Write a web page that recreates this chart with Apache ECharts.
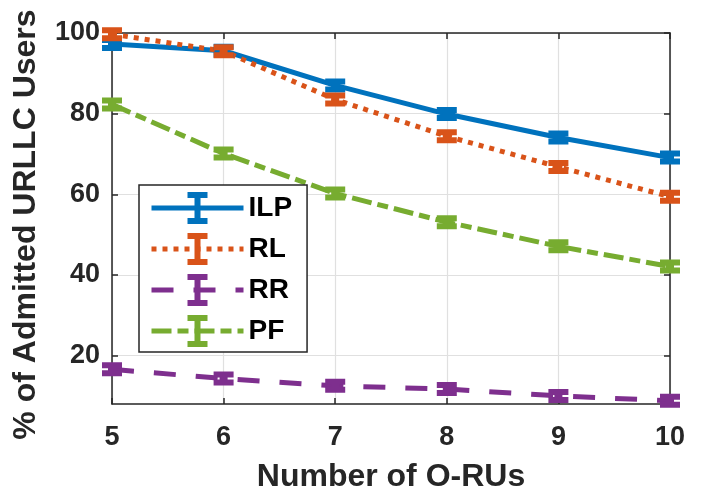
<!DOCTYPE html>
<html>
<head>
<meta charset="utf-8">
<script src="https://cdn.jsdelivr.net/npm/echarts@6/dist/echarts.min.js"></script>
<style>
html,body{margin:0;padding:0;background:#fff;}
#main{width:704px;height:493px;}
</style>
</head>
<body>
<div id="main"></div>
<script>
const xValues = [5, 6, 7, 8, 9, 10];
const ilpValues = [97.3, 95.6, 87.0, 79.9, 74.1, 69.1];
const rlValues = [99.7, 95.5, 83.5, 74.4, 66.8, 59.4];
const rrValues = [16.6, 14.3, 12.5, 11.7, 10.0, 8.8];
const pfValues = [82.3, 70.1, 60.2, 53.1, 47.1, 42.1];
const yTickValues = [20, 40, 60, 80, 100];
const seriesNames = ['ILP', 'RL', 'RR', 'PF'];
const seriesColors = ['#0072BD', '#D95319', '#7E2F8E', '#77AC30'];

const FONT = "'Liberation Sans', Arial, Helvetica, sans-serif";
const legendBeam = 'path://M0,16L0,16M32,16L32,16M6,0H26V6H19V26H26V32H6V26H13V6H6Z';
const markerBeam = 'path://M0,0H20V6H14V8H20V14H0V8H6V6H0Z';

function makeData(vals) {
  return vals.map((v, i) => ({ value: [xValues[i], v], symbol: markerBeam, symbolSize: [20, 14] }));
}
const dashes = ['solid', [5, 6], [22, 20], [20, 6, 11, 6]];
const allValues = [ilpValues, rlValues, rrValues, pfValues];

const series = seriesNames.map((name, k) => ({
  name: name,
  type: 'line',
  data: makeData(allValues[k]),
  symbol: legendBeam,
  symbolSize: 20,
  clip: false,
  color: seriesColors[k],
  lineStyle: { width: 5, type: dashes[k], color: seriesColors[k], cap: 'butt' },
  itemStyle: { color: seriesColors[k], borderWidth: 0 },
  emphasis: { disabled: true },
  animation: false
}));

const axisLineStyle = { color: '#262626', width: 1.5 };
const chart = echarts.init(document.getElementById('main'), null, { renderer: 'canvas' });
chart.setOption({
  backgroundColor: '#fff',
  animation: false,
  grid: { left: 112, right: 34, top: 33, bottom: 89, containLabel: false, outerBoundsMode: 'none' },
  legend: {
    data: seriesNames,
    orient: 'vertical',
    left: 139,
    top: 185,
    padding: [7, 15, 5, 10],
    itemWidth: 92,
    itemHeight: 40,
    itemGap: 9,
    borderColor: '#262626',
    borderWidth: 1.5,
    backgroundColor: '#fff',
    itemStyle: { borderWidth: 0 },
    lineStyle: { width: 5 },
    textStyle: { fontFamily: FONT, fontWeight: 'bold', fontSize: 28, color: '#000' },
    selectedMode: false
  },
  xAxis: [{
    type: 'value', min: 5, max: 10, interval: 1,
    name: 'Number of O-RUs', nameLocation: 'middle', nameGap: 57,
    nameTextStyle: { fontFamily: FONT, fontWeight: 'bold', fontSize: 32, color: '#262626' },
    axisLine: { show: true, lineStyle: axisLineStyle },
    axisTick: { show: true, inside: true, length: 6, lineStyle: axisLineStyle },
    axisLabel: { fontFamily: FONT, fontWeight: 'bold', fontSize: 27, color: '#262626', margin: 20 },
    splitLine: { show: true, lineStyle: { color: '#e0e0e0', width: 1.2 } }
  }, {
    type: 'value', min: 5, max: 10, interval: 1, position: 'top',
    axisLine: { show: true, onZero: false, lineStyle: axisLineStyle },
    axisTick: { show: true, inside: true, length: 6, lineStyle: axisLineStyle },
    axisLabel: { show: false },
    splitLine: { show: false }
  }],
  yAxis: [{
    type: 'value', min: 8, max: 100,
    name: '% of Admitted URLLC Users', nameLocation: 'middle', nameGap: 70,
    nameTextStyle: { fontFamily: FONT, fontWeight: 'bold', fontSize: 32, color: '#262626', padding: [0, 12, 0, 0] },
    axisLine: { show: true, lineStyle: axisLineStyle },
    axisTick: { show: true, inside: true, length: 6, lineStyle: axisLineStyle, customValues: yTickValues },
    axisLabel: { fontFamily: FONT, fontWeight: 'bold', fontSize: 27, color: '#262626', margin: 12, customValues: yTickValues },
    splitLine: { show: true, lineStyle: { color: '#e0e0e0', width: 1.2 } }
  }, {
    type: 'value', min: 8, max: 100, position: 'right',
    axisLine: { show: true, onZero: false, lineStyle: axisLineStyle },
    axisTick: { show: true, inside: true, length: 6, lineStyle: axisLineStyle, customValues: yTickValues },
    axisLabel: { show: false, customValues: yTickValues },
    splitLine: { show: false }
  }],
  series: series
});
</script>
</body>
</html>
